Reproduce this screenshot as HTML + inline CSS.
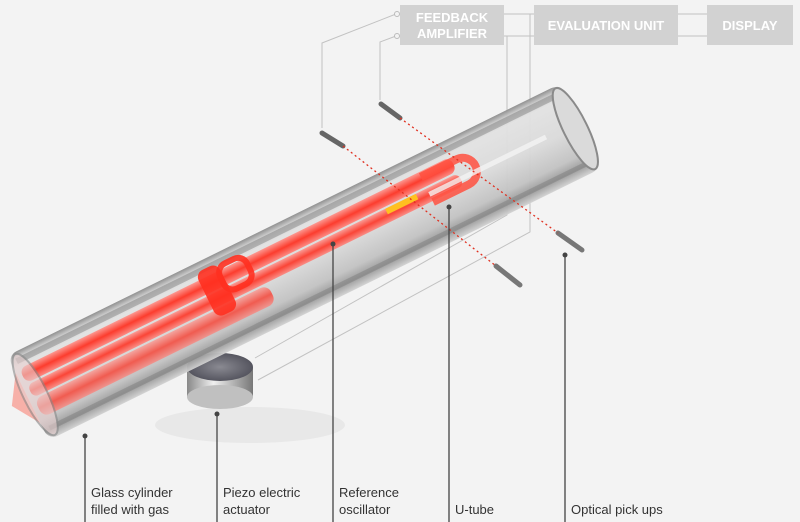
<!DOCTYPE html>
<html><head><meta charset="utf-8"><style>
html,body{margin:0;padding:0;background:#f3f3f3;}
svg{display:block}
text{font-family:"Liberation Sans",sans-serif;}
</style></head><body>
<svg width="800" height="522" viewBox="0 0 800 522" xmlns="http://www.w3.org/2000/svg">
<defs>
<linearGradient id="glass" x1="0" y1="0" x2="0" y2="1">
<stop offset="0" stop-color="#8c8c8c"/>
<stop offset="0.06" stop-color="#c8c8c8"/>
<stop offset="0.15" stop-color="#e2e2e2"/>
<stop offset="0.5" stop-color="#dadada"/>
<stop offset="0.78" stop-color="#c2c2c2"/>
<stop offset="0.9" stop-color="#9a9a9a"/>
<stop offset="1" stop-color="#d2d2d2"/>
</linearGradient>
<linearGradient id="red" x1="0" y1="0" x2="0" y2="1">
<stop offset="0" stop-color="#ff9088"/>
<stop offset="0.5" stop-color="#ff2a1a"/>
<stop offset="1" stop-color="#ff8078"/>
</linearGradient>
<linearGradient id="metal" x1="0" y1="0" x2="1" y2="0">
<stop offset="0" stop-color="#888"/><stop offset="0.4" stop-color="#f0f0f0"/><stop offset="1" stop-color="#777"/>
</linearGradient>
<radialGradient id="disc" cx="0.5" cy="0.5" r="0.5">
<stop offset="0" stop-color="#8a8a92"/><stop offset="1" stop-color="#55555f"/>
</radialGradient>
</defs>
<rect width="800" height="522" fill="#f3f3f3"/>

<g stroke="#c2c2c2" stroke-width="1" fill="none">
<polyline points="396,14 322,43 322,128"/>
<polyline points="396,36 380,42 380,100"/>
<line x1="504" y1="14" x2="534" y2="14"/>
<line x1="504" y1="36" x2="534" y2="36"/>
<line x1="678" y1="14" x2="707" y2="14"/>
<line x1="678" y1="36" x2="707" y2="36"/>
<polyline points="530,14 530,232 258,380"/>
<polyline points="507,36 507,215 255,358"/>
</g>
<circle cx="397" cy="14" r="2.5" fill="#f3f3f3" stroke="#bbb"/>
<circle cx="397" cy="36" r="2.5" fill="#f3f3f3" stroke="#bbb"/>

<rect x="400" y="5" width="104" height="40" fill="#d2d2d2"/>
<text x="452" y="22" text-anchor="middle" font-size="13" font-weight="bold" fill="#fff">FEEDBACK</text>
<text x="452" y="38" text-anchor="middle" font-size="13" font-weight="bold" fill="#fff">AMPLIFIER</text>
<rect x="534" y="5" width="144" height="40" fill="#d2d2d2"/>
<text x="606" y="30" text-anchor="middle" font-size="13" font-weight="bold" fill="#fff">EVALUATION UNIT</text>
<rect x="707" y="5" width="86" height="40" fill="#d2d2d2"/>
<text x="750" y="30" text-anchor="middle" font-size="13" font-weight="bold" fill="#fff">DISPLAY</text>

<ellipse cx="250" cy="425" rx="95" ry="18" fill="#e8e8e8"/>
<rect x="187" y="367" width="66" height="30" fill="url(#metal)"/>
<ellipse cx="220" cy="397" rx="33" ry="12" fill="#c0c0c0"/>
<ellipse cx="220" cy="367" rx="33" ry="14" fill="url(#disc)"/>

<g transform="translate(28,398) rotate(-26.2)">
<rect x="0" y="-47" width="616" height="94" rx="10" fill="url(#glass)" opacity="0.95"/>
<rect x="6" y="-41" width="604" height="6" fill="#7a7a7a" opacity="0.45"/>
<rect x="6" y="34" width="604" height="5" fill="#7a7a7a" opacity="0.45"/>
<rect x="5" y="-30" width="480" height="16" rx="7" fill="url(#red)" opacity="0.9"/>
<rect x="5" y="-12" width="480" height="14" rx="6" fill="url(#red)" opacity="0.85"/>
<rect x="5" y="4" width="260" height="20" rx="8" fill="url(#red)" opacity="0.7"/>
<path d="M450,-25 h40 a14,14 0 0 1 0,28 h-40" fill="none" stroke="#ff5040" stroke-width="8" opacity="0.85"/>
<rect x="404" y="-12" width="34" height="6" fill="#ffc020"/>
<rect x="450" y="-8" width="130" height="5" fill="#f4f4f4" opacity="0.8"/>
<rect x="205" y="-38" width="24" height="50" rx="8" fill="#ff3020" opacity="0.9"/>
<rect x="226" y="-34" width="30" height="28" rx="10" fill="none" stroke="#ff3020" stroke-width="6" opacity="0.9"/>
<path d="M0,-28 L-18,0 L0,28 Z" fill="#f7b0a8"/>
<ellipse cx="8" cy="0" rx="12" ry="45" fill="#e8d0d0" opacity="0.6" stroke="#888" stroke-width="2"/>
<ellipse cx="610" cy="0" rx="12" ry="45" fill="#dadada" stroke="#8a8a8a" stroke-width="2"/>
</g>

<g stroke-linecap="round">
<line x1="322" y1="133" x2="343" y2="146" stroke="#666" stroke-width="5"/>
<line x1="381" y1="104" x2="400" y2="118" stroke="#666" stroke-width="5"/>
<line x1="496" y1="266" x2="520" y2="285" stroke="#777" stroke-width="5"/>
<line x1="558" y1="233" x2="582" y2="250" stroke="#777" stroke-width="5"/>
</g>
<g stroke="#e03020" stroke-width="1.3" stroke-dasharray="2,3" fill="none">
<line x1="343" y1="146" x2="496" y2="266"/>
<line x1="400" y1="118" x2="558" y2="233"/>
</g>

<g stroke="#444" stroke-width="1.3">
<line x1="85" y1="436" x2="85" y2="522"/>
<line x1="217" y1="414" x2="217" y2="522"/>
<line x1="333" y1="244" x2="333" y2="522"/>
<line x1="449" y1="207" x2="449" y2="522"/>
<line x1="565" y1="255" x2="565" y2="522"/>
</g>
<g fill="#444">
<circle cx="85" cy="436" r="2.5"/><circle cx="217" cy="414" r="2.5"/>
<circle cx="333" cy="244" r="2.5"/><circle cx="449" cy="207" r="2.5"/>
<circle cx="565" cy="255" r="2.5"/>
</g>
<g font-size="13" fill="#333">
<text x="91" y="497">Glass cylinder</text><text x="91" y="514">filled with gas</text>
<text x="223" y="497">Piezo electric</text><text x="223" y="514">actuator</text>
<text x="339" y="497">Reference</text><text x="339" y="514">oscillator</text>
<text x="455" y="514">U-tube</text>
<text x="571" y="514">Optical pick ups</text>
</g>
</svg>
</body></html>
